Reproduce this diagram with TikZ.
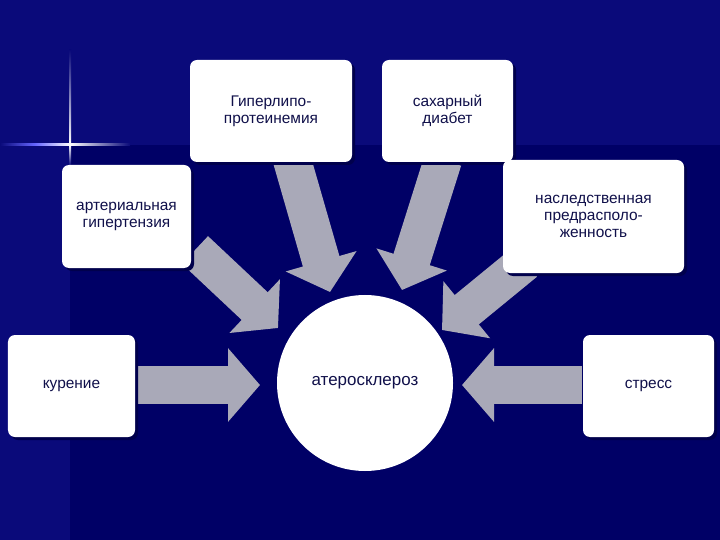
\documentclass[tikz,border=0pt]{standalone}
\usepackage{fontspec}
\setmainfont{Liberation Sans}
\usetikzlibrary{arrows.meta}
\definecolor{bgA}{HTML}{0A0A7A}
\definecolor{bgB}{HTML}{000066}
\definecolor{txt}{HTML}{10104A}
\definecolor{arr}{HTML}{A9A9B8}
\begin{document}
\begin{tikzpicture}[x=1bp,y=-1bp,
  box/.style={draw=none,fill=white,rounded corners=7bp,inner sep=0pt,font=\fontsize{15.5}{17}\selectfont,text=txt,align=center},
  shadow/.style={fill=black!70!blue,rounded corners=7bp},
  blk/.style={draw=arr,line width=38bp,-{Triangle[width=72bp,length=32bp]},arr}]
\useasboundingbox (0,0) rectangle (720,540);
\fill[bgA] (0,0) rectangle (720,540);
\fill[bgB] (70,145) rectangle (720,540);
\shade[left color=bgA,right color=white,middle color=blue!60] (0,144) rectangle (70,146);
\shade[left color=white,right color=bgA] (70,144) rectangle (130,146);
\shade[top color=bgA,bottom color=white] (69,50) rectangle (71,145);
\shade[top color=white,bottom color=bgA] (69,145) rectangle (71,165);
% arrows
\coordinate (k1) at (137,385); \coordinate (k2) at (260,385);
\coordinate (s1) at (582,385); \coordinate (s2) at (462,385);
\coordinate (g1) at (292,160); \coordinate (g2) at (330,292);
\coordinate (d1) at (443,160); \coordinate (d2) at (402,290);
\coordinate (a1) at (195,250); \coordinate (a2) at (278,328);
\coordinate (n1) at (525,262); \coordinate (n2) at (442,330);
\foreach \p/\q in {k1/k2,s1/s2,g1/g2,d1/d2,a1/a2,n1/n2}
  \draw[blk] (\p) -- (\q);
% boxes with shadows
\foreach \x/\y/\w/\h in {190/60/162/102, 382/60/131/102, 62/165/129/103, 503/160/181/113, 8/335/127/102, 583/335/131/102}
  \fill[shadow] (\x+3,\y+3) rectangle (\x+\w+3,\y+\h+3);
\node[box,minimum width=162bp,minimum height=102bp] (gip) at (271,111) {Гиперлипо-\\протеинемия};
\node[box,minimum width=131bp,minimum height=102bp] (sah) at (447.5,111) {сахарный\\диабет};
\node[box,minimum width=129bp,minimum height=103bp] (art) at (126.5,216.5) {артериальная\\гипертензия};
\node[box,minimum width=181bp,minimum height=113bp] (nas) at (593.5,216.5) {наследственная\\предрасполо-\\женность};
\node[box,minimum width=127bp,minimum height=102bp] (kur) at (71.5,386) {курение};
\node[box,minimum width=131bp,minimum height=102bp] (str) at (648.5,386) {стресс};
\node[circle,fill=white,minimum size=176bp,inner sep=0pt,font=\fontsize{17}{19}\selectfont,text=txt] (ath) at (365,383) {атеросклероз};
\end{tikzpicture}
\end{document}
